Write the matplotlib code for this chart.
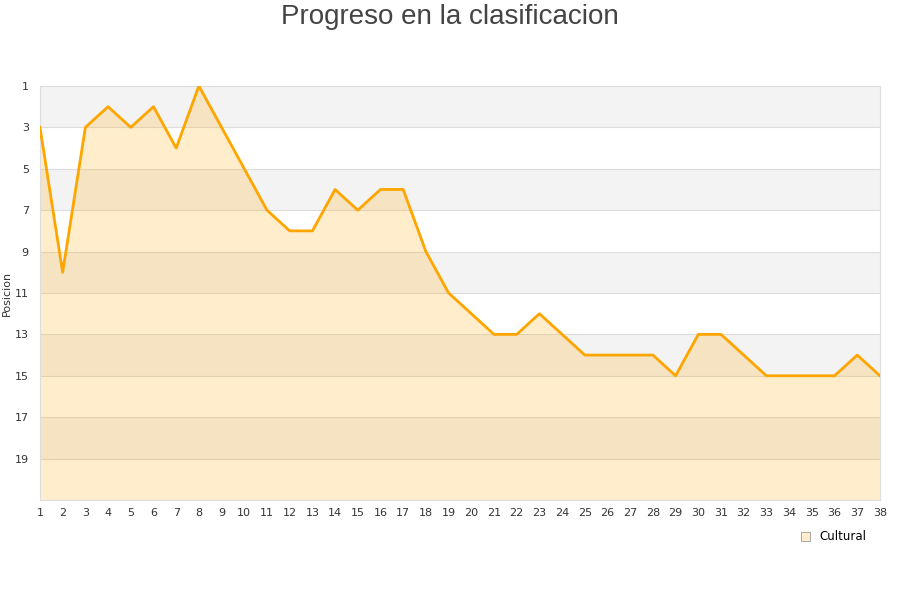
import matplotlib
matplotlib.use("Agg")
import matplotlib.pyplot as plt
from matplotlib.patches import Patch

jornadas = list(range(1, 39))
posicion = [3, 10, 3, 2, 3, 2, 4, 1, 3, 5, 7, 8, 8, 6, 7, 6, 6, 9, 11, 12,
            13, 13, 12, 13, 14, 14, 14, 14, 15, 13, 13, 14, 15, 15, 15, 15, 14, 15]
yticks = [1, 3, 5, 7, 9, 11, 13, 15, 17, 19]
serie = "Cultural"
titulo = "Progreso en la clasificacion"

fig = plt.figure(figsize=(9, 6), dpi=100)
ax = fig.add_axes([0.0444, 0.1667, 0.9333, 0.69])

ymin, ymax = 1, 21
for i, y0 in enumerate(range(1, 21, 2)):
    if i % 2 == 0:
        ax.axhspan(y0, y0 + 2, color="#f3f3f3", zorder=0, lw=0)
for y in yticks[1:]:
    ax.axhline(y, color="#dddddd", lw=0.8, zorder=1)

ax.fill_between(jornadas, posicion, ymax, color="orange", alpha=0.2, lw=0, zorder=2)
ax.plot(jornadas, posicion, color="#ffa500", lw=2.0, zorder=3)

ax.set_xlim(1, 38)
ax.set_ylim(ymax, ymin)
ax.set_xticks(jornadas)
ax.set_yticks(yticks)
ax.tick_params(axis="both", length=0, labelsize=8, colors="#333333")
ax.tick_params(axis="x", pad=6)
ax.tick_params(axis="y", pad=8)
for s in ax.spines.values():
    s.set_color("#dddddd")
    s.set_linewidth(0.8)

ax.set_ylabel("Posicion", fontsize=8, color="#333333")
ax.yaxis.set_label_coords(-0.033, 0.5)
fig.text(0.5, 0.993, titulo, ha="center", va="top", fontsize=20, color="#444444",
         family="Liberation Sans")

handle = Patch(facecolor="#ffedcc", edgecolor="#999999", lw=0.6)
fig.legend([handle], [serie], loc="center right", bbox_to_anchor=(0.975, 0.105),
           frameon=False, fontsize=8.5, handlelength=0.8, handleheight=0.8,
           handletextpad=0.8)

fig.savefig("out.png", dpi=100)
